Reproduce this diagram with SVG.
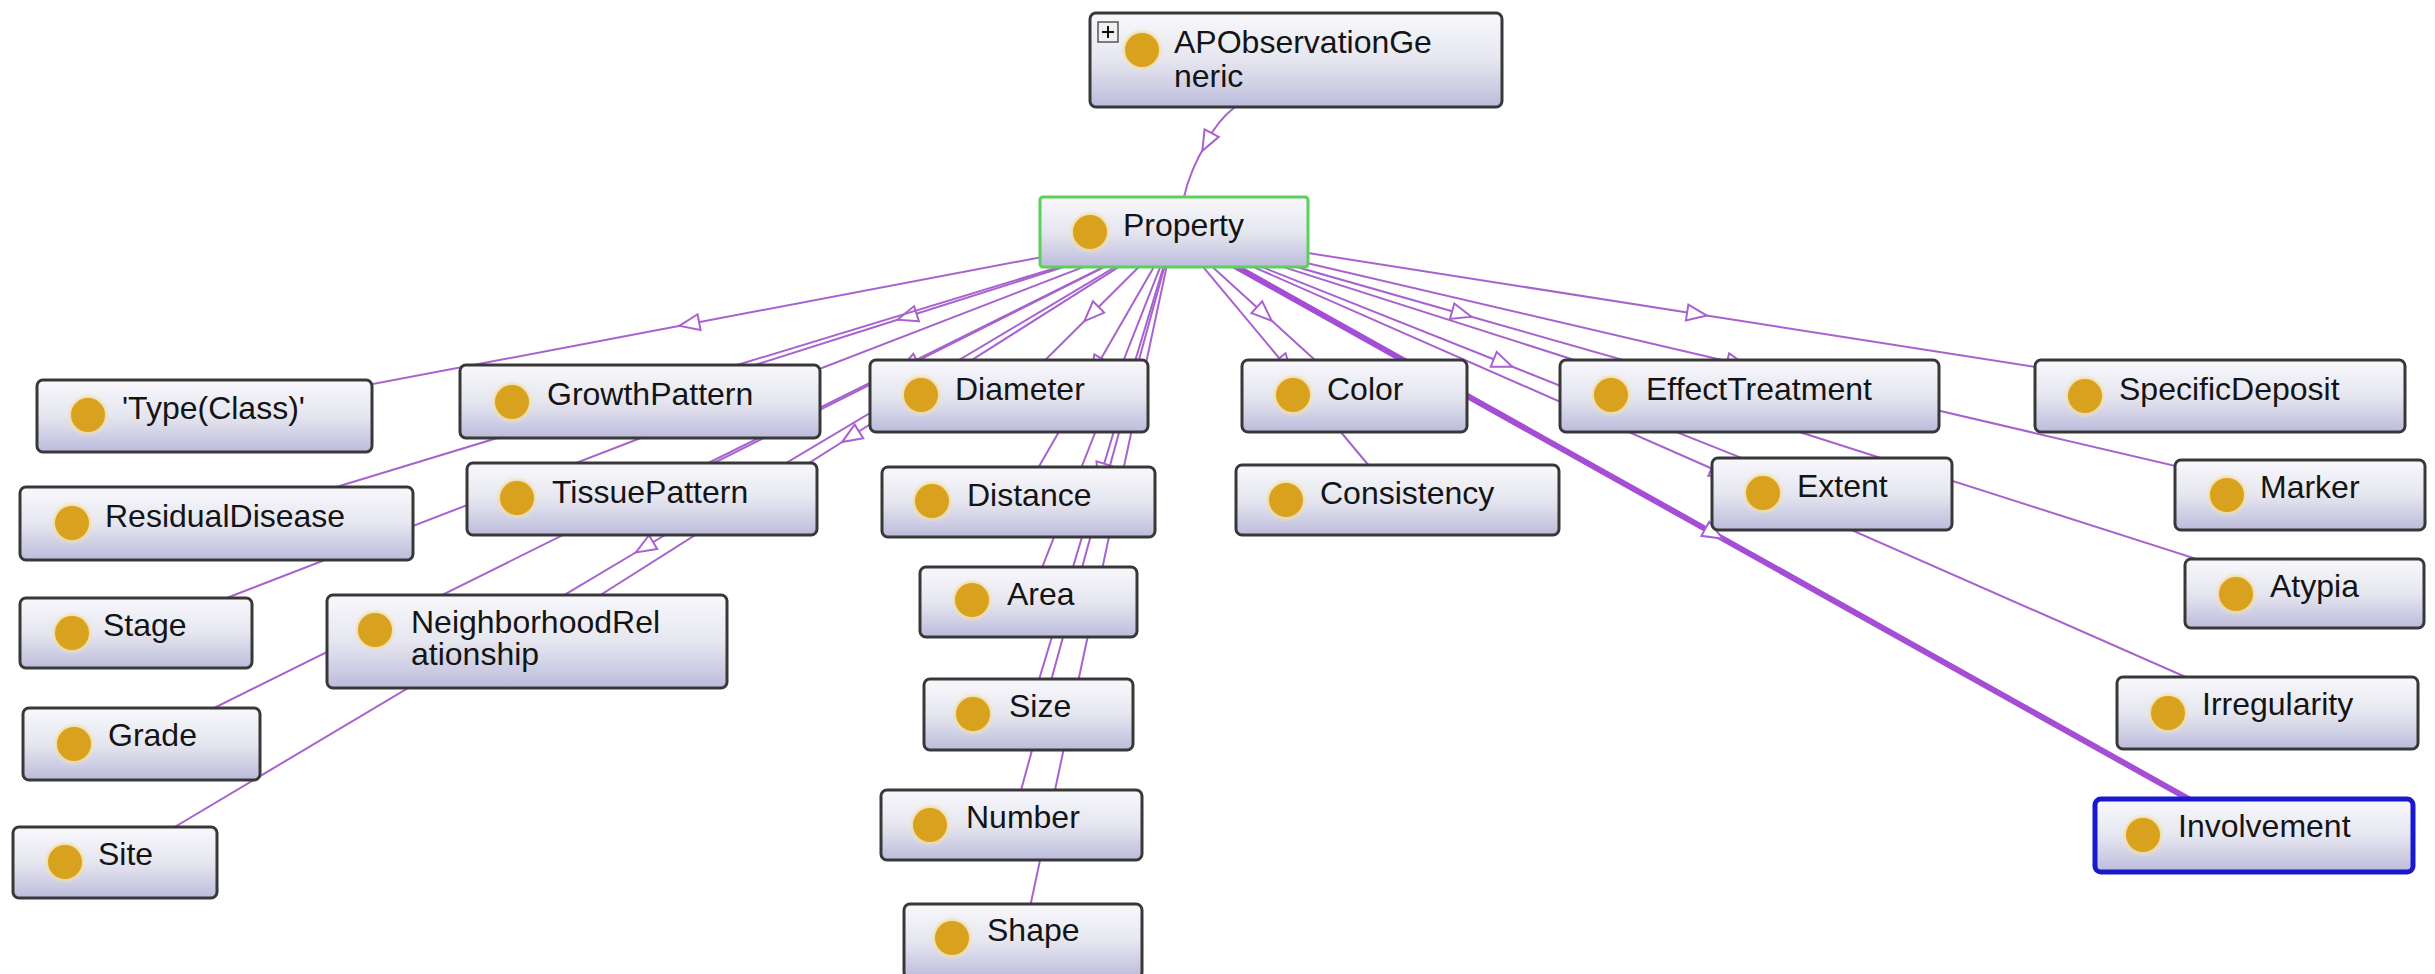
<svg xmlns="http://www.w3.org/2000/svg" width="2435" height="974" viewBox="0 0 2435 974">
  <defs>
    <linearGradient id="nodeFill" x1="0" y1="0" x2="0" y2="1">
      <stop offset="0" stop-color="#F8F8FC"/>
      <stop offset="0.5" stop-color="#E6E6F0"/>
      <stop offset="1" stop-color="#BCBCDC"/>
    </linearGradient>
    <radialGradient id="halo">
      <stop offset="0.75" stop-color="#F2D78E" stop-opacity="0.9"/>
      <stop offset="1" stop-color="#F7E9C0" stop-opacity="0"/>
    </radialGradient>
    <!-- hollow triangle placed at the middle vertex of each edge -->
    <marker id="tri" markerUnits="userSpaceOnUse" markerWidth="26" markerHeight="22" viewBox="0 0 26 22" refX="13" refY="11" orient="auto">
      <path d="M3,3 L23,11 L3,19 Z" fill="#FFFFFF" stroke="#A862CF" stroke-width="2"/>
    </marker>
  </defs>
  <style>
    .edge { fill: none; stroke: #A862CF; stroke-width: 2; marker-mid: url(#tri); }
    .edge.sel { stroke: #A64DD6; stroke-width: 6; }
    .box { fill: url(#nodeFill); stroke: #383838; stroke-width: 3; }
    .root { stroke: #5AD25A; }
    .focus { stroke: #1818CC; stroke-width: 5; }
    .halo { fill: url(#halo); }
    .dot { fill: #D9A21E; }
    .lbl { font-family: "Liberation Sans", Arial, sans-serif; font-size: 32px; fill: #141414; }
  </style>
  <rect width="2435" height="974" fill="#FFFFFF"/>

  <!-- subclass edges, drawn centre to centre behind the nodes -->
  <g id="connectors">
    <path class="edge" d="M1236,106 Q1216,122 1207,142 Q1190,170 1184,197"/>
    <path class="edge" d="M1174,232 L689.25,324 L204.5,416"/>
    <path class="edge" d="M1174,232 L907,316.75 L640,401.5"/>
    <path class="edge" d="M1174,232 L1091.5,314 L1009,396"/>
    <path class="edge" d="M1174,232 L1264.25,314 L1354.5,396"/>
    <path class="edge" d="M1174,232 L1461.75,314 L1749.5,396"/>
    <path class="edge" d="M1174,232 L1697,314 L2220,396"/>
    <path class="edge" d="M1174,232 L695.25,377.75 L216.5,523.5"/>
    <path class="edge" d="M1174,232 L908,365.5 L642,499"/>
    <path class="edge" d="M1174,232 L1096.25,367 L1018.5,502"/>
    <path class="edge" d="M1174,232 L1285.75,366 L1397.5,500"/>
    <path class="edge" d="M1174,232 L1503,363 L1832,494"/>
    <path class="edge" d="M1174,232 L1737,363.5 L2300,495"/>
    <path class="edge" d="M1174,232 L655,432.5 L136,633"/>
    <path class="edge" d="M1174,232 L850.5,436.75 L527,641.5"/>
    <path class="edge" d="M1174,232 L1101.25,417 L1028.5,602"/>
    <path class="edge" d="M1174,232 L1739.25,412.75 L2304.5,593.5"/>
    <path class="edge" d="M1174,232 L657.75,488 L141.5,744"/>
    <path class="edge" d="M1174,232 L1101.25,473.25 L1028.5,714.5"/>
    <path class="edge" d="M1174,232 L1720.75,472.5 L2267.5,713"/>
    <path class="edge" d="M1174,232 L644.5,547.25 L115,862.5"/>
    <path class="edge" d="M1174,232 L1092.75,528.5 L1011.5,825"/>
    <path class="edge" d="M1174,232 L1098.5,586 L1023,940"/>
    <path class="edge sel" d="M1174,232 L1714,533.75 L2254,835.5"/>
  </g>

  <g id="n-apobservationgeneric" transform="translate(1090,13)">
    <rect class="box" width="412" height="94" rx="6"/>
    <rect x="8" y="9" width="20" height="20" fill="#F0F0F0" stroke="#555" stroke-width="1.5"/>
    <path d="M12,19 H24 M18,13 V25" stroke="#111" stroke-width="2"/>
    <circle class="halo" cx="52" cy="37" r="22"/>
    <circle class="dot" cx="52" cy="37" r="17"/>
    <text class="lbl" x="84" y="40">APObservationGe</text>
    <text class="lbl" x="84" y="74">neric</text>
  </g>

  <g id="n-property" transform="translate(1040,197)">
    <rect class="box root" width="268" height="70" rx="3"/>
    <circle class="halo" cx="50" cy="35" r="22"/>
    <circle class="dot" cx="50" cy="35" r="17"/>
    <text class="lbl" x="83" y="39">Property</text>
  </g>

  <g id="n-type-class" transform="translate(37,380)">
    <rect class="box" width="335" height="72" rx="6"/>
    <circle class="halo" cx="51" cy="35" r="22"/>
    <circle class="dot" cx="51" cy="35" r="17"/>
    <text class="lbl" x="85" y="39">'Type(Class)'</text>
  </g>

  <g id="n-growthpattern" transform="translate(460,365)">
    <rect class="box" width="360" height="73" rx="6"/>
    <circle class="halo" cx="52" cy="37" r="22"/>
    <circle class="dot" cx="52" cy="37" r="17"/>
    <text class="lbl" x="87" y="40">GrowthPattern</text>
  </g>

  <g id="n-diameter" transform="translate(870,360)">
    <rect class="box" width="278" height="72" rx="6"/>
    <circle class="halo" cx="51" cy="35" r="22"/>
    <circle class="dot" cx="51" cy="35" r="17"/>
    <text class="lbl" x="85" y="40">Diameter</text>
  </g>

  <g id="n-color" transform="translate(1242,360)">
    <rect class="box" width="225" height="72" rx="6"/>
    <circle class="halo" cx="51" cy="35" r="22"/>
    <circle class="dot" cx="51" cy="35" r="17"/>
    <text class="lbl" x="85" y="40">Color</text>
  </g>

  <g id="n-effecttreatment" transform="translate(1560,360)">
    <rect class="box" width="379" height="72" rx="6"/>
    <circle class="halo" cx="51" cy="35" r="22"/>
    <circle class="dot" cx="51" cy="35" r="17"/>
    <text class="lbl" x="86" y="40">EffectTreatment</text>
  </g>

  <g id="n-specificdeposit" transform="translate(2035,360)">
    <rect class="box" width="370" height="72" rx="6"/>
    <circle class="halo" cx="50" cy="36" r="22"/>
    <circle class="dot" cx="50" cy="36" r="17"/>
    <text class="lbl" x="84" y="40">SpecificDeposit</text>
  </g>

  <g id="n-residualdisease" transform="translate(20,487)">
    <rect class="box" width="393" height="73" rx="6"/>
    <circle class="halo" cx="52" cy="36" r="22"/>
    <circle class="dot" cx="52" cy="36" r="17"/>
    <text class="lbl" x="85" y="40">ResidualDisease</text>
  </g>

  <g id="n-tissuepattern" transform="translate(467,463)">
    <rect class="box" width="350" height="72" rx="6"/>
    <circle class="halo" cx="50" cy="35" r="22"/>
    <circle class="dot" cx="50" cy="35" r="17"/>
    <text class="lbl" x="85" y="40">TissuePattern</text>
  </g>

  <g id="n-distance" transform="translate(882,467)">
    <rect class="box" width="273" height="70" rx="6"/>
    <circle class="halo" cx="50" cy="34" r="22"/>
    <circle class="dot" cx="50" cy="34" r="17"/>
    <text class="lbl" x="85" y="39">Distance</text>
  </g>

  <g id="n-consistency" transform="translate(1236,465)">
    <rect class="box" width="323" height="70" rx="6"/>
    <circle class="halo" cx="50" cy="35" r="22"/>
    <circle class="dot" cx="50" cy="35" r="17"/>
    <text class="lbl" x="84" y="39">Consistency</text>
  </g>

  <g id="n-extent" transform="translate(1712,458)">
    <rect class="box" width="240" height="72" rx="6"/>
    <circle class="halo" cx="51" cy="35" r="22"/>
    <circle class="dot" cx="51" cy="35" r="17"/>
    <text class="lbl" x="85" y="39">Extent</text>
  </g>

  <g id="n-marker" transform="translate(2175,460)">
    <rect class="box" width="250" height="70" rx="6"/>
    <circle class="halo" cx="52" cy="35" r="22"/>
    <circle class="dot" cx="52" cy="35" r="17"/>
    <text class="lbl" x="85" y="38">Marker</text>
  </g>

  <g id="n-stage" transform="translate(20,598)">
    <rect class="box" width="232" height="70" rx="6"/>
    <circle class="halo" cx="52" cy="35" r="22"/>
    <circle class="dot" cx="52" cy="35" r="17"/>
    <text class="lbl" x="83" y="38">Stage</text>
  </g>

  <g id="n-neighborhoodrelationship" transform="translate(327,595)">
    <rect class="box" width="400" height="93" rx="6"/>
    <circle class="halo" cx="48" cy="35" r="22"/>
    <circle class="dot" cx="48" cy="35" r="17"/>
    <text class="lbl" x="84" y="38">NeighborhoodRel</text>
    <text class="lbl" x="84" y="70">ationship</text>
  </g>

  <g id="n-area" transform="translate(920,567)">
    <rect class="box" width="217" height="70" rx="6"/>
    <circle class="halo" cx="52" cy="33" r="22"/>
    <circle class="dot" cx="52" cy="33" r="17"/>
    <text class="lbl" x="87" y="38">Area</text>
  </g>

  <g id="n-atypia" transform="translate(2185,559)">
    <rect class="box" width="239" height="69" rx="6"/>
    <circle class="halo" cx="51" cy="35" r="22"/>
    <circle class="dot" cx="51" cy="35" r="17"/>
    <text class="lbl" x="85" y="38">Atypia</text>
  </g>

  <g id="n-grade" transform="translate(23,708)">
    <rect class="box" width="237" height="72" rx="6"/>
    <circle class="halo" cx="51" cy="36" r="22"/>
    <circle class="dot" cx="51" cy="36" r="17"/>
    <text class="lbl" x="85" y="38">Grade</text>
  </g>

  <g id="n-size" transform="translate(924,679)">
    <rect class="box" width="209" height="71" rx="6"/>
    <circle class="halo" cx="49" cy="35" r="22"/>
    <circle class="dot" cx="49" cy="35" r="17"/>
    <text class="lbl" x="85" y="38">Size</text>
  </g>

  <g id="n-irregularity" transform="translate(2117,677)">
    <rect class="box" width="301" height="72" rx="6"/>
    <circle class="halo" cx="51" cy="36" r="22"/>
    <circle class="dot" cx="51" cy="36" r="17"/>
    <text class="lbl" x="85" y="38">Irregularity</text>
  </g>

  <g id="n-site" transform="translate(13,827)">
    <rect class="box" width="204" height="71" rx="6"/>
    <circle class="halo" cx="52" cy="35" r="22"/>
    <circle class="dot" cx="52" cy="35" r="17"/>
    <text class="lbl" x="85" y="38">Site</text>
  </g>

  <g id="n-number" transform="translate(881,790)">
    <rect class="box" width="261" height="70" rx="6"/>
    <circle class="halo" cx="49" cy="35" r="22"/>
    <circle class="dot" cx="49" cy="35" r="17"/>
    <text class="lbl" x="85" y="38">Number</text>
  </g>

  <g id="n-involvement" transform="translate(2095,799)">
    <rect class="box focus" width="318" height="73" rx="6"/>
    <circle class="halo" cx="48" cy="36" r="22"/>
    <circle class="dot" cx="48" cy="36" r="17"/>
    <text class="lbl" x="83" y="38">Involvement</text>
  </g>

  <g id="n-shape" transform="translate(904,904)">
    <rect class="box" width="238" height="74" rx="6"/>
    <circle class="halo" cx="48" cy="34" r="22"/>
    <circle class="dot" cx="48" cy="34" r="17"/>
    <text class="lbl" x="83" y="37">Shape</text>
  </g>
</svg>
